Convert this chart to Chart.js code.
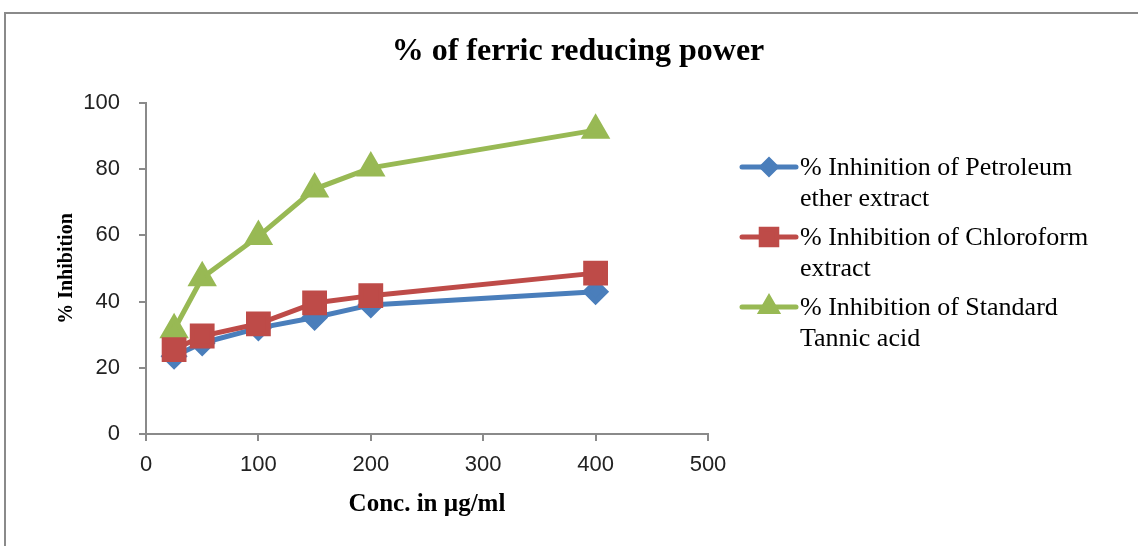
<!DOCTYPE html>
<html>
<head>
<meta charset="utf-8">
<script src="https://cdn.jsdelivr.net/npm/chart.js@4.4.1/dist/chart.umd.min.js"></script>
<style>
    html, body { margin: 0; padding: 0; background: #fff; }
    #wrap { width: 1138px; height: 546px; position: relative; }
</style>
</head>
<body>
<div id="wrap"><canvas id="ferricChart"></canvas></div>
<script>
'use strict'

// values
const concentrations = [25, 50, 100, 150, 200, 400];
const petroleumEther = [23.5, 27.5, 32, 35.2, 39, 43];
const chloroform = [25.5, 29.6, 33.3, 39.6, 41.8, 48.6];
const tannicAcid = [31.5, 47.2, 59.7, 74, 80.4, 91.8];

const seriesLabels = [
    ['% Inhinition of Petroleum', 'ether extract'],
    ['% Inhibition of Chloroform', 'extract'],
    ['% Inhibition of Standard', 'Tannic acid']
];
const xTicks = [0, 100, 200, 300, 400, 500];
const yTicks = [0, 20, 40, 60, 80, 100];

const toPoints = (values) => values.map((v, i) => ({ x: concentrations[i], y: v }));

const serif = "'Liberation Serif', 'Times New Roman', serif";
const sans = "'Liberation Sans', Arial, sans-serif";

// frame + title + two-line legend, drawn on the canvas
const decorPlugin = {
    id: 'decor',
    beforeDraw(chart) {
        const ctx = chart.ctx;
        ctx.save();
        ctx.strokeStyle = '#8a8a8a';
        ctx.lineWidth = 2;
        ctx.beginPath();
        ctx.moveTo(5, 546);
        ctx.lineTo(5, 13);
        ctx.lineTo(1138, 13);
        ctx.stroke();
        ctx.restore();
    },
    afterDraw(chart) {
        const ctx = chart.ctx;
        ctx.save();
        ctx.fillStyle = '#000';
        ctx.font = 'bold 32px ' + serif;
        ctx.textAlign = 'center';
        ctx.textBaseline = 'middle';
        ctx.fillText('% of ferric reducing power', 578, 52);

        const rows = [167, 237, 307];
        chart.data.datasets.forEach((ds, i) => {
            const y = rows[i];
            ctx.strokeStyle = ds.borderColor;
            ctx.lineWidth = 5;
            ctx.lineCap = 'round';
            ctx.beginPath();
            ctx.moveTo(742, y);
            ctx.lineTo(796, y);
            ctx.stroke();
            ctx.fillStyle = ds.backgroundColor;
            ctx.strokeStyle = ds.backgroundColor;
            Chart.helpers.drawPoint(ctx, {
                pointStyle: ds.pointStyle,
                radius: ds.legendRadius,
                rotation: 0,
                borderWidth: 1
            }, 769, y);

            ctx.fillStyle = '#000';
            ctx.font = '26px ' + serif;
            ctx.textAlign = 'left';
            ctx.textBaseline = 'middle';
            seriesLabels[i].forEach((line, k) => {
                ctx.fillText(line, 800, y + 1 + k * 31);
            });
        });
        ctx.restore();
    }
};

new Chart(document.querySelector('#ferricChart'), {
    type: 'scatter',
    data: {
        datasets: [
            {
                label: seriesLabels[0].join(' '),
                data: toPoints(petroleumEther),
                borderColor: '#4a7ebb',
                backgroundColor: '#4a7ebb',
                pointStyle: 'rectRot',
                pointRadius: 10,
                legendRadius: 7,
                borderWidth: 5,
                showLine: true,
                order: 3
            },
            {
                label: seriesLabels[1].join(' '),
                data: toPoints(chloroform),
                borderColor: '#be4b48',
                backgroundColor: '#be4b48',
                pointStyle: 'rect',
                pointRadius: 14,
                legendRadius: 11,
                borderWidth: 5,
                showLine: true,
                order: 1
            },
            {
                label: seriesLabels[2].join(' '),
                data: toPoints(tannicAcid),
                borderColor: '#98b954',
                backgroundColor: '#98b954',
                pointStyle: 'triangle',
                pointRadius: 12,
                legendRadius: 9,
                borderWidth: 5,
                showLine: true,
                order: 2
            }
        ]
    },
    options: {
        responsive: true,
        maintainAspectRatio: false,
        animation: false,
        layout: {
            padding: { left: 0, top: 103, right: 430, bottom: 0 }
        },
        plugins: {
            legend: { display: false },
            title: { display: false },
            tooltip: { enabled: false }
        },
        scales: {
            x: {
                type: 'linear',
                min: 0,
                max: 500,
                afterBuildTicks: (scale) => { scale.ticks = xTicks.map(v => ({ value: v })); },
                afterFit: (scale) => { scale.height = 112; },
                grid: { drawOnChartArea: false, drawTicks: true, tickLength: 7, color: '#8a8a8a', lineWidth: 2 },
                border: { color: '#8a8a8a', width: 2 },
                ticks: { color: '#222', font: { family: sans, size: 22 }, padding: 11, maxRotation: 0 },
                title: {
                    display: true,
                    text: 'Conc. in µg/ml',
                    color: '#000',
                    font: { family: serif, size: 25, weight: 'bold' },
                    padding: { top: 0, bottom: 26 }
                }
            },
            y: {
                min: 0,
                max: 100,
                afterBuildTicks: (scale) => { scale.ticks = yTicks.map(v => ({ value: v })); },
                afterFit: (scale) => { scale.width = 146; },
                grid: { drawOnChartArea: false, drawTicks: true, tickLength: 7, color: '#8a8a8a', lineWidth: 2 },
                border: { color: '#8a8a8a', width: 2 },
                ticks: { color: '#222', font: { family: sans, size: 22 }, padding: 19 },
                title: {
                    display: true,
                    text: '% Inhibition',
                    color: '#000',
                    font: { family: serif, size: 20, weight: 'bold' },
                    padding: { top: 55, bottom: 0 }
                }
            }
        }
    },
    plugins: [decorPlugin]
});
</script>
</body>
</html>
